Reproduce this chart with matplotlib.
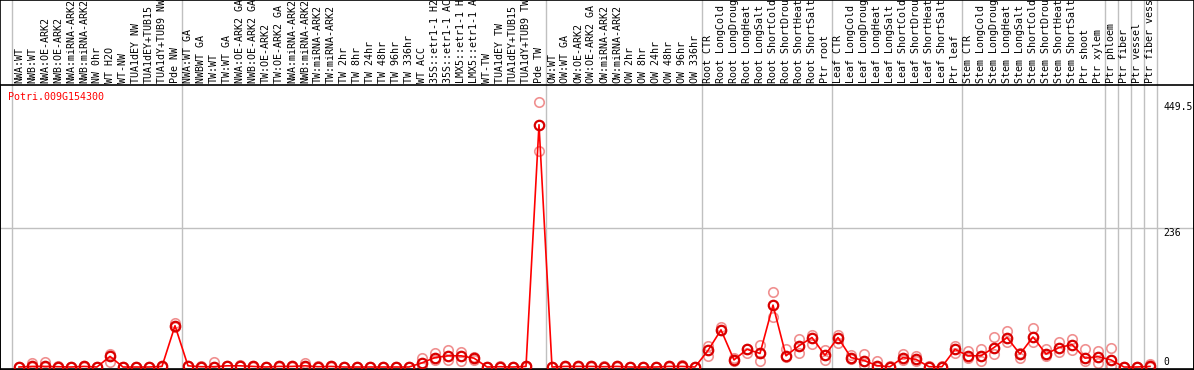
import matplotlib
matplotlib.use("Agg")
import matplotlib.pyplot as plt
import matplotlib.transforms as mtransforms
import numpy as np

gene = "Potri.009G154300"

labels = [
    "NWA:WT", "NWB:WT", "NWA:OE-ARK2", "NWB:OE-ARK2", "NWA:miRNA-ARK2", "NWB:miRNA-ARK2",
    "NW 0hr", "WT H2O", "WT-NW", "TUA1dEY NW", "TUA1dEY+TUB15", "TUA1dY+TUB9 NW", "Pde NW",
    "NWA:WT GA", "NWBWT GA", "TW:WT", "TW:WT GA", "NWA:OE-ARK2 GA", "NWB:OE-ARK2 GA",
    "TW:OE-ARK2", "TW:OE-ARK2 GA", "NWA:miRNA-ARK2", "NWB:miRNA-ARK2", "TW:miRNA-ARK2",
    "TW:miRNA-ARK2", "TW 2hr", "TW 8hr", "TW 24hr", "TW 48hr", "TW 96hr", "TW 336hr",
    "WT ACC", "35S::etr1-1 H2", "35S::etr1-1 AC", "LMX5::etr1-1 H", "LMX5::etr1-1 A",
    "WT-TW", "TUA1dEY TW", "TUA1dEY+TUB15", "TUA1dY+TUB9 TW", "Pde TW",
    "OW:WT", "OW:WT GA", "OW:OE-ARK2", "OW:OE-ARK2 GA", "OW:miRNA-ARK2", "OW:miRNA-ARK2",
    "OW 2hr", "OW 8hr", "OW 24hr", "OW 48hr", "OW 96hr", "OW 336hr",
    "Root CTR", "Root LongCold", "Root LongDroug", "Root LongHeat", "Root LongSalt",
    "Root ShortCold", "Root ShortDrou", "Root ShortHeat", "Root ShortSalt", "Ptr root",
    "Leaf CTR", "Leaf LongCold", "Leaf LongDroug", "Leaf LongHeat", "Leaf LongSalt",
    "Leaf ShortCold", "Leaf ShortDrou", "Leaf ShortHeat", "Leaf ShortSalt", "Ptr leaf",
    "Stem CTR", "Stem LongCold", "Stem LongDroug", "Stem LongHeat", "Stem LongSalt",
    "Stem ShortCold", "Stem ShortDrou", "Stem ShortHeat", "Stem ShortSalt", "Ptr shoot",
    "Ptr xylem", "Ptr phloem", "Ptr fiber", "Ptr vessel", "Ptr fiber vess",
]

# mean expression
mean = [
    0, 1, 1, 0.5, 0, 1, 0, 18, 0, 0, 0, 1, 70,
    2, 0.5, 0.5, 2, 2, 1, 0, 1, 1, 2, 0.5, 1, 0, 0, 0, 0, 0, 0,
    7, 16, 19, 19, 15, 0, 0.5, 0, 1, 411,
    0, 1, 1, 1, 0.5, 1, 0, 0, 0, 1, 1, 0,
    28, 63, 12, 30, 23, 105, 19, 36, 50, 20,
    50, 16, 11, 2.3, 0.5, 16, 13, 0.5, 0.5, 30,
    19, 19, 33, 50, 22, 51, 22, 33, 38, 15,
    17.5, 12, 0, 0, 1,
]

# replicates
rep_hi = [
    0, 6, 8, 1, 0, 2, 0, 22, 0, 0, 0, 1, 74,
    2, 1, 9, 2, 3, 1, 0, 2, 1, 6, 1, 1, 0, 0, 0, 0, 0, 0,
    16, 24, 28, 26, 17, 0, 1, 0, 1, 450,
    0, 1, 1, 1, 1, 2, 0, 0, 0, 1, 3, 0,
    36, 68, 15, 30, 37, 127, 30, 47, 54, 29,
    54, 20, 22, 10, 1, 21.5, 18.7, 1, 1, 36,
    27.6, 30, 51, 61, 24, 67, 30.5, 42, 47.5, 30.5,
    27.6, 33, 0, 0, 5,
]

rep_lo = [
    0, 0, 0, 0, 0, 0, 0, 9, 0, 0, 0, 0, 68,
    1, 0, 0, 1, 1, 0, 0, 0, 0, 0, 0, 0, 0, 0, 0, 0, 0, 0,
    0, 12, 12, 11, 12, 0, 0, 0, 0, 366,
    0, 0, 0, 0, 0, 0, 0, 0, 0, 0, 0, 0,
    19, 62, 10, 23, 11, 85, 17, 24, 39, 12,
    40, 14, 3.4, 0, 0, 12, 10, 0, 0, 23,
    15, 10, 22, 42, 14.7, 42, 18, 26, 28.8, 10,
    6.2, 2, 0, 0, 0,
]

separators = [-0.5, 12.5, 40.5, 52.5, 62.5, 72.5, 83.5, 84.5, 85.5, 86.5, 87.5]

W, H = 1194, 370
fig = plt.figure(figsize=(W / 100, H / 100), dpi=100)
ax = fig.add_axes([0, 1 / H, 1, 284 / H])

x = np.arange(len(labels))
ax.set_xlim(-19 / 13, (W - 19) / 13)
ax.set_ylim(-2 / 0.5895, 282 / 0.5895)
ax.set_xticks([])
ax.set_yticks([])
for s in ax.spines.values():
    s.set_color("black")
    s.set_linewidth(1.2)

trans = mtransforms.blended_transform_factory(ax.transData, fig.transFigure)
for sx in separators:
    ax.plot([sx, sx], [0, 1], color="#c0c0c0", lw=1, transform=trans, clip_on=False, zorder=0)
ax.axhline(236, color="#c0c0c0", lw=1, zorder=0)

ax.plot(x, rep_hi, "o", mfc="none", mec="#f09090", ms=6.8, mew=1.2, clip_on=False, zorder=2)
ax.plot(x, rep_lo, "o", mfc="none", mec="#f09090", ms=6.8, mew=1.2, clip_on=False, zorder=2)
ax.plot(x, mean, "-", color="red", lw=1.2, zorder=3, clip_on=False)
ax.plot(x, mean, "o", mfc="none", mec="#d80000", ms=6.8, mew=1.6, zorder=4, clip_on=False)

mono = "DejaVu Sans Mono"
for i, lab in enumerate(labels):
    ax.text(i, (H - 83) / H, lab, transform=trans, rotation=90, ha="center", va="bottom",
            fontsize=7.2, family=mono, color="black")

ax.text(8 / W, (H - 97) / H, gene, transform=fig.transFigure, ha="left", va="center",
        fontsize=7.2, family=mono, color="red")

tx = (1163 - 19) / 13
ax.text(tx, 449.5, "449.5", ha="left", va="top", fontsize=7, family=mono)
ax.text(tx, 236, "236", ha="left", va="top", fontsize=7, family=mono)
ax.text(tx, 0, "0", ha="left", va="bottom", fontsize=7, family=mono)

# figure frame
fig.add_artist(plt.Rectangle((0, 0), 1, 1, transform=fig.transFigure, fill=False,
                             edgecolor="black", lw=1.2))

fig.savefig("out.png", dpi=100)
